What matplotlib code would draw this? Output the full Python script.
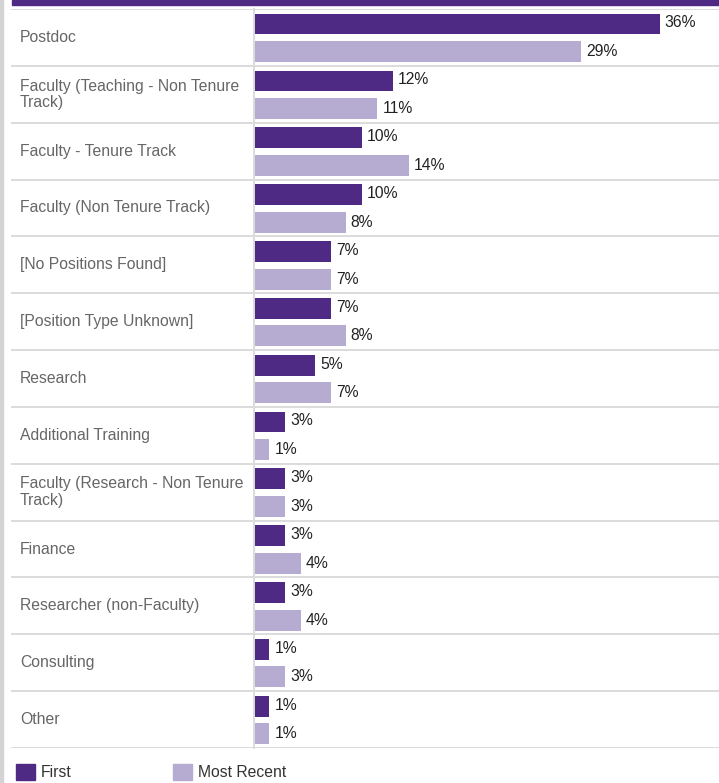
import matplotlib
matplotlib.use("Agg")
import matplotlib.pyplot as plt
from matplotlib.patches import Rectangle, Patch

plt.rcParams["font.family"] = ["Liberation Sans", "DejaVu Sans"]

categories = [
    "Postdoc",
    "Faculty (Teaching - Non Tenure\nTrack)",
    "Faculty - Tenure Track",
    "Faculty (Non Tenure Track)",
    "[No Positions Found]",
    "[Position Type Unknown]",
    "Research",
    "Additional Training",
    "Faculty (Research - Non Tenure\nTrack)",
    "Finance",
    "Researcher (non-Faculty)",
    "Consulting",
    "Other",
]
first = [36.1, 12.4, 9.6, 9.6, 6.9, 6.9, 5.5, 2.8, 2.8, 2.8, 2.8, 1.4, 1.4]
recent = [29.1, 11.0, 13.8, 8.2, 6.9, 8.2, 6.9, 1.4, 2.8, 4.2, 4.2, 2.8, 1.4]
first_labels = ["36%", "12%", "10%", "10%", "7%", "7%", "5%", "3%", "3%", "3%", "3%", "1%", "1%"]
recent_labels = ["29%", "11%", "14%", "8%", "7%", "8%", "7%", "1%", "3%", "4%", "4%", "3%", "1%"]

DARK = "#4e2a84"
LIGHT = "#b6acd1"
GRID = "#dcdcdc"
FS = 11.3

W, H = 719, 783
fig = plt.figure(figsize=(W / 100, H / 100), dpi=100)

top, bottom = 9, 748
split = 253.5
px_per_pct = 11.25

lab_ax = fig.add_axes([11 / W, 1 - bottom / H, (split - 11) / W, (bottom - top) / H])
bar_ax = fig.add_axes([split / W, 1 - bottom / H, (W - split) / W, (bottom - top) / H])

n = len(categories)
for ax in (lab_ax, bar_ax):
    ax.set_ylim(n, 0)
    for s in ax.spines.values():
        s.set_visible(False)
    ax.set_xticks([])
    ax.set_yticks([])
    for i in range(n + 1):
        ax.axhline(i, color=GRID, lw=1.4, zorder=1)

lab_ax.set_xlim(0, 1)
bar_ax.set_xlim(0, (W - split) / px_per_pct)
bar_ax.spines["left"].set_visible(True)
bar_ax.spines["left"].set_color(GRID)
bar_ax.spines["left"].set_linewidth(1.4)

rows = list(range(n))
y_first = [r + 0.265 for r in rows]
y_recent = [r + 0.75 for r in rows]
bar_ax.barh(y_first, first, height=0.365, color=DARK, zorder=2)
bar_ax.barh(y_recent, recent, height=0.37, color=LIGHT, zorder=2)

for y, v, t in zip(y_first, first, first_labels):
    bar_ax.text(v + 0.45, y - 0.02, t, va="center", ha="left", fontsize=FS, color="#222222")
for y, v, t in zip(y_recent, recent, recent_labels):
    bar_ax.text(v + 0.45, y, t, va="center", ha="left", fontsize=FS, color="#222222")

for r, c in zip(rows, categories):
    lab_ax.text(0.037, r + 0.5, c, va="center", ha="left", fontsize=FS,
                color="#666666", linespacing=1.12)

# top band and left border
fig.patches.append(Rectangle((12 / W, 1 - 5 / H), 1, 5 / H, transform=fig.transFigure,
                             color=DARK, zorder=0))
fig.patches.append(Rectangle((0, 0), 3 / W, 1, transform=fig.transFigure,
                             color="#d4d4d4", zorder=0))

handles = [Patch(color=DARK, label="First"), Patch(color=LIGHT, label="Most Recent")]
fig.legend(handles=handles, loc="upper left", bbox_to_anchor=(16 / W, 1 - 764 / H),
           ncol=2, frameon=False, fontsize=FS, handlelength=1.2, handleheight=1.2,
           handletextpad=0.38, columnspacing=6.45, borderpad=0, borderaxespad=0,
           labelcolor="#333333")

fig.savefig("out.png", dpi=100)
